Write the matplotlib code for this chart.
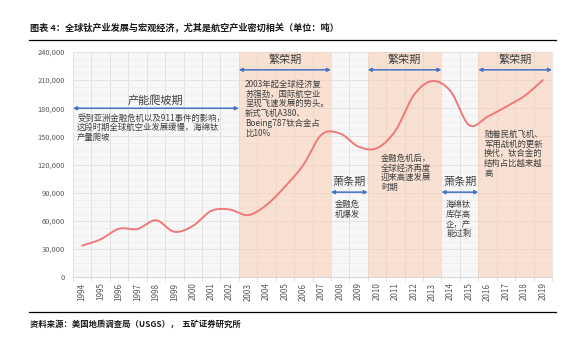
import matplotlib
matplotlib.use('Agg')
import matplotlib.pyplot as plt
from matplotlib.lines import Line2D
import numpy as np

plt.rcParams['font.family'] = ['Noto Sans CJK SC', 'DejaVu Sans']

years = [str(y) for y in range(1994, 2020)]
output = [33400, 40200, 51500, 51200, 60500, 48300, 54400, 70500, 72000, 66000,
          76800, 96300, 119500, 152000, 153000, 139000, 137500, 156000, 194000, 209000,
          198000, 162000, 171000, 181500, 193000, 210000]

# (first year idx, last year idx)
boom_spans = [(9, 13), (16, 19), (22, 25)]
bust_spans = [(14, 15), (20, 21)]

title = '图表 4：全球钛产业发展与宏观经济，尤其是航空产业密切相关（单位：吨）'
source = '资料来源：美国地质调查局（USGS），  五矿证券研究所'

ramp_label = '产能爬坡期'
ramp_note = '受到亚洲金融危机以及911事件的影响，\n这段时期全球航空业发展缓慢，海绵钛\n产量爬坡'
boom_label = '繁荣期'
bust_label = '萧条期'
notes = [
    (8.84, 210500, '2003年起全球经济复\n苏强劲，国际航空业\n呈现飞速发展的势头。\n新式飞机A380、\nBoeing787钛合金占\n比10%'),
    (13.72, 82000, '金融危\n机爆发'),
    (16.22, 131500, '金融危机后，\n全球经济再度\n迎来高速发展\n时期'),
    (19.75, 82000, '海绵钛\n库存高\n企，产\n能过剩'),
    (21.81, 157000, '随着民航飞机、\n军用战机的更新\n换代，钛合金的\n结构占比越来越\n高'),
]

blue = '#4472c4'


def smooth(xs, ys, n=20):
    # catmull-rom through the points, like excel's smoothed line
    px = np.concatenate([[2 * xs[0] - xs[1]], xs, [2 * xs[-1] - xs[-2]]])
    py = np.concatenate([[2 * ys[0] - ys[1]], ys, [2 * ys[-1] - ys[-2]]])
    ox, oy = [], []
    t = np.linspace(0, 1, n, endpoint=False)
    for i in range(1, len(px) - 2):
        for p, o in ((px, ox), (py, oy)):
            p0, p1, p2, p3 = p[i - 1], p[i], p[i + 1], p[i + 2]
            o.extend(0.5 * (2 * p1 + (-p0 + p2) * t + (2 * p0 - 5 * p1 + 4 * p2 - p3) * t ** 2
                            + (-p0 + 3 * p1 - 3 * p2 + p3) * t ** 3))
    ox.append(xs[-1])
    oy.append(ys[-1])
    return np.array(ox), np.array(oy)


def arrow(ax, x0, x1, y):
    ax.annotate('', xy=(x0, y), xytext=(x1, y),
                arrowprops=dict(arrowstyle='<|-|>', color=blue, lw=1.1,
                                mutation_scale=5, shrinkA=0, shrinkB=0), zorder=5)


fig = plt.figure(figsize=(5.84, 3.51), dpi=100)
ax = fig.add_axes([73 / 584, 1 - 277 / 351, 479 / 584, 225 / 351])
ax.set_facecolor('#f7f7f7')

x = np.arange(len(years))
ax.set_xlim(-0.5, len(years) - 0.5)
ax.set_ylim(0, 240000)
ax.set_yticks(np.arange(0, 240001, 30000))
ax.set_yticks(np.arange(0, 240001, 7500), minor=True)
ax.set_yticklabels([f'{v:,}' for v in range(0, 240001, 30000)])
ax.set_xticks(x)
ax.set_xticklabels(years, rotation=90)
ax.set_xticks(np.arange(-0.5, len(years), 1), minor=True)
ax.tick_params(axis='x', which='major', length=0, pad=4, labelsize=5.8, colors='#595959')
ax.tick_params(axis='x', which='minor', length=3, color='#d9d9d9')
ax.tick_params(axis='y', which='both', length=0, pad=6, labelsize=5.4, colors='#595959')
ax.set_axisbelow(True)
ax.grid(axis='y', which='major', color='#e2e2e2', lw=0.7)
ax.grid(axis='y', which='minor', color='#ececec', lw=0.5)
ax.grid(axis='x', which='minor', color='#e2e2e2', lw=0.7)
for s in ('left', 'top'):
    ax.spines[s].set_visible(False)
ax.spines['right'].set_color('#e6e6e6')
ax.spines['bottom'].set_color('#d9d9d9')

for a, b in boom_spans:
    ax.axvspan(a - 0.5, b + 0.5, color='#f9cdb0', alpha=0.5, lw=0, zorder=1)

sx, sy = smooth(x.astype(float), np.array(output, dtype=float))
ax.plot(sx, sy, color='#f07878', lw=1.4, zorder=4, solid_capstyle='round')

lab_kw = dict(ha='center', va='center', fontsize=8, color='#404040', zorder=6)
note_kw = dict(ha='left', va='top', fontsize=6, color='#404040', linespacing=1.1, zorder=6)

arrow(ax, -0.5, 8.5, 180000)
ax.text(3.95, 188000, ramp_label, **lab_kw)
ax.text(-0.28, 174500, ramp_note, **note_kw)

for a, b in boom_spans:
    arrow(ax, a - 0.5, b + 0.5, 221000)
    ax.text((a + b) / 2, 231500, boom_label, **lab_kw)
for a, b in bust_spans:
    arrow(ax, a - 0.5, b + 0.5, 90500)
    ax.text((a + b) / 2, 101500, bust_label, **lab_kw)
for nx, ny, t in notes:
    ax.text(nx, ny, t, **note_kw)

fig.text(30 / 584, 1 - 27 / 351, title, fontsize=6.6, fontweight='bold', color='#1a1a1a',
         ha='left', va='center')
fig.add_artist(Line2D([29 / 584, 556 / 584], [1 - 40 / 351] * 2, color='black', lw=0.9))
fig.add_artist(Line2D([29 / 584, 556 / 584], [1 - 312 / 351] * 2, color='black', lw=0.9))
fig.text(30 / 584, 1 - 324 / 351, source, fontsize=6, fontweight='bold', color='#1a1a1a',
         ha='left', va='center')

fig.savefig('out.png', dpi=100)
